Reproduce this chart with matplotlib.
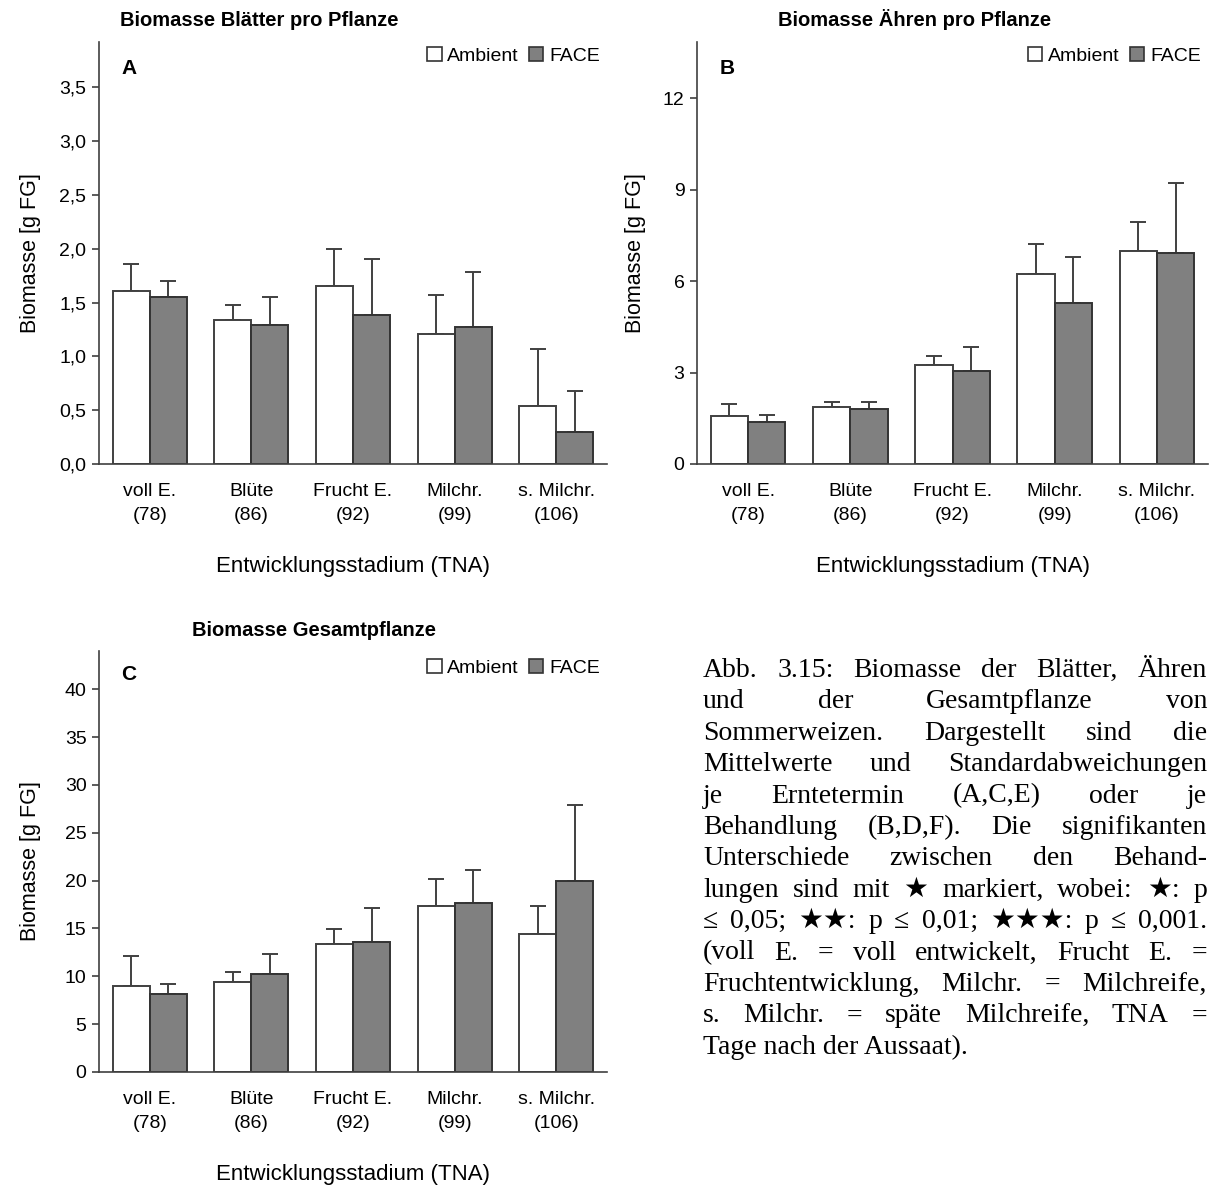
import matplotlib
matplotlib.use("Agg")
import matplotlib.pyplot as plt
from matplotlib.patches import Patch
import numpy as np

plt.rcParams['font.family'] = ['Liberation Sans', 'DejaVu Sans']

stages = ["voll E.\n(78)", "Blüte\n(86)", "Frucht E.\n(92)", "Milchr.\n(99)", "s. Milchr.\n(106)"]

# A: Blätter
a_amb = [1.61, 1.34, 1.65, 1.21, 0.54]
a_amb_sd = [0.25, 0.14, 0.35, 0.36, 0.53]
a_face = [1.55, 1.29, 1.38, 1.27, 0.30]
a_face_sd = [0.15, 0.26, 0.52, 0.51, 0.38]

# B: Ähren
b_amb = [1.56, 1.86, 3.24, 6.24, 6.99]
b_amb_sd = [0.42, 0.17, 0.30, 0.96, 0.96]
b_face = [1.38, 1.79, 3.06, 5.28, 6.91]
b_face_sd = [0.22, 0.24, 0.78, 1.51, 2.29]

# C: Gesamtpflanze
c_amb = [9.0, 9.4, 13.4, 17.3, 14.4]
c_amb_sd = [3.1, 1.0, 1.55, 2.85, 2.9]
c_face = [8.2, 10.2, 13.6, 17.7, 20.0]
c_face_sd = [1.0, 2.1, 3.5, 3.45, 7.9]

W, H = 1212, 1187
fig = plt.figure(figsize=(W / 100, H / 100), dpi=100)


def rect(l, r, b, t):
    return [l / W, 1 - b / H, (r - l) / W, (b - t) / H]


def panel(box, amb, amb_sd, face, face_sd, ymax, yticks, ylabels, letter, ylab_x, letter_y, leg_y):
    ax = fig.add_axes(box)
    x = np.arange(len(stages))
    w = 0.365
    ax.bar(x - w / 2, amb, w, color='white', edgecolor='#404040', linewidth=1.4, zorder=2)
    ax.bar(x + w / 2, face, w, color='#808080', edgecolor='#333333', linewidth=1.4, zorder=2)
    ax.errorbar(x - w / 2, amb, yerr=[np.zeros(len(amb)), amb_sd], fmt='none',
                ecolor='#404040', elinewidth=1.4, capsize=6, capthick=1.4, zorder=1)
    ax.errorbar(x + w / 2, face, yerr=[np.zeros(len(face)), face_sd], fmt='none',
                ecolor='#404040', elinewidth=1.4, capsize=6, capthick=1.4, zorder=1)
    ax.set_xlim(-0.5, len(stages) - 0.5)
    ax.set_ylim(0, ymax)
    ax.set_yticks(yticks)
    ax.set_yticklabels(ylabels, fontsize=14)
    ax.set_xticks(x)
    ax.set_xticklabels(stages, fontsize=14, linespacing=1.5)
    ax.tick_params(axis='x', length=0, pad=14)
    ax.tick_params(axis='y', length=5, width=1.2, color='#404040', pad=4)
    for s in ['top', 'right']:
        ax.spines[s].set_visible(False)
    for s in ['left', 'bottom']:
        ax.spines[s].set_color('#404040')
        ax.spines[s].set_linewidth(1.2)
    ax.set_ylabel("Biomasse [g FG]", fontsize=15.5)
    ax.yaxis.set_label_coords(ylab_x, 0.5)
    ax.set_xlabel("Entwicklungsstadium (TNA)", fontsize=16)
    ax.xaxis.set_label_coords(0.5, -0.218)
    ax.text(0.059, letter_y, letter, transform=ax.transAxes, fontsize=15, fontweight='bold',
            va='center', ha='center')
    handles = [Patch(facecolor='white', edgecolor='#333333', linewidth=1.2),
               Patch(facecolor='#808080', edgecolor='#333333', linewidth=1.2)]
    ax.legend(handles, ["Ambient", "FACE"], ncol=2, frameon=False, fontsize=14,
              loc='center right', bbox_to_anchor=(0.986, leg_y), handlelength=0.75,
              handleheight=0.75, handletextpad=0.3, columnspacing=0.5,
              borderaxespad=0, borderpad=0)
    return ax


panel(rect(99, 607, 464, 42), a_amb, a_amb_sd, a_face, a_face_sd, 3.92,
      np.arange(0, 3.6, 0.5), ["0,0", "0,5", "1,0", "1,5", "2,0", "2,5", "3,0", "3,5"], "A",
      -0.115, 0.938, 0.967)
panel(rect(697, 1208, 464, 42), b_amb, b_amb_sd, b_face, b_face_sd, 13.84,
      [0, 3, 6, 9, 12], ["0", "3", "6", "9", "12"], "B", -0.1, 0.938, 0.967)
panel(rect(99, 607, 1072, 651), c_amb, c_amb_sd, c_face, c_face_sd, 44,
      np.arange(0, 41, 5), [str(v) for v in range(0, 41, 5)], "C", -0.115, 0.943, 0.96)

fig.text(259 / W, 1 - 20 / H, "Biomasse Blätter pro Pflanze", fontsize=14.5,
         fontweight='bold', ha='center', va='center')
fig.text(915 / W, 1 - 20 / H, "Biomasse Ähren pro Pflanze", fontsize=14.5,
         fontweight='bold', ha='center', va='center')
fig.text(314 / W, 1 - 631 / H, "Biomasse Gesamtpflanze", fontsize=14.5,
         fontweight='bold', ha='center', va='center')

caption = [
    "Abb. 3.15: Biomasse der Blätter, Ähren",
    "und der Gesamtpflanze von",
    "Sommerweizen. Dargestellt sind die",
    "Mittelwerte und Standardabweichungen",
    "je Erntetermin (A,C,E) oder je",
    "Behandlung (B,D,F). Die signifikanten",
    "Unterschiede zwischen den Behand-",
    "lungen sind mit ★ markiert, wobei: ★: p",
    "≤ 0,05; ★★: p ≤ 0,01; ★★★: p ≤ 0,001.",
    "(voll E. = voll entwickelt, Frucht E. =",
    "Fruchtentwicklung, Milchr. = Milchreife,",
    "s. Milchr. = späte Milchreife, TNA =",
    "Tage nach der Aussaat).",
]
serif = ['Liberation Serif', 'DejaVu Serif', 'DejaVu Sans']
left, right = 703, 1207
renderer = fig.canvas.get_renderer()
for i, line in enumerate(caption):
    y = 1 - (677 + i * 31.4) / H
    words = line.split(' ')
    if i == len(caption) - 1:
        fig.text(left / W, y, line, fontsize=20, family=serif, va='baseline', ha='left')
        continue
    texts = [fig.text(0, y, wd, fontsize=20, family=serif, va='baseline', ha='left') for wd in words]
    widths = [t.get_window_extent(renderer).width for t in texts]
    gap = (right - left - sum(widths)) / (len(words) - 1)
    xpos = left
    for t, wd in zip(texts, widths):
        t.set_x(xpos / W)
        xpos += wd + gap

fig.savefig("out.png", dpi=100)
